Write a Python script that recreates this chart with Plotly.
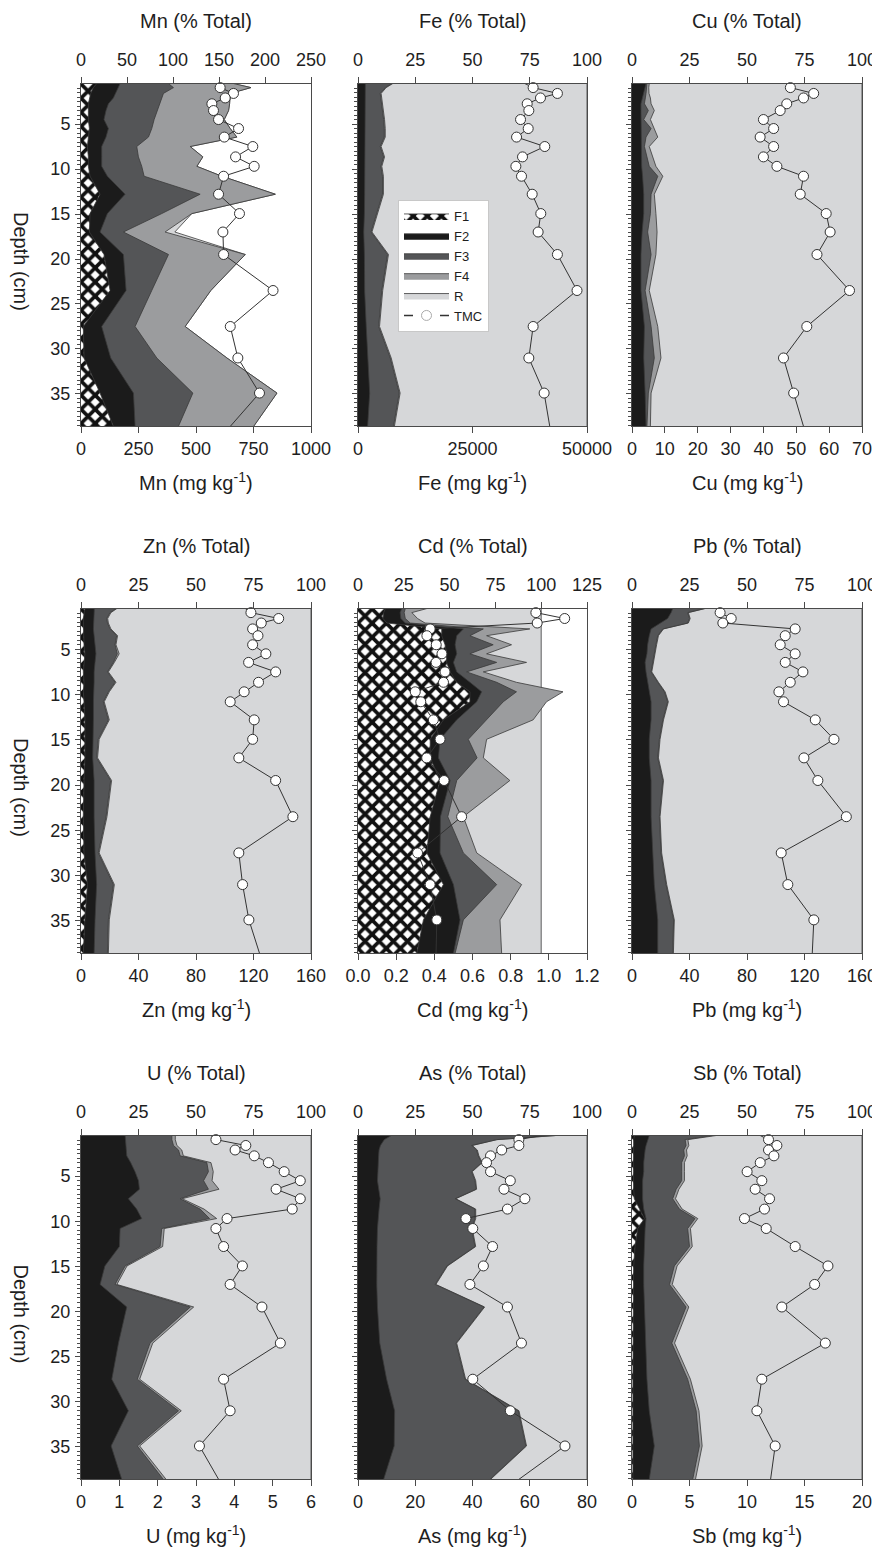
import plotly.graph_objects as go

# page body has an 8px margin: the figure is placed at (8, 8)
OFF = 8
W, H = 880, 1548

# ---------------- data ----------------
depth = [0.5, 0.95, 1.6, 2.1, 2.75, 3.5, 4.5, 5.5, 6.45, 7.5, 8.65, 9.7, 10.8,
         12.8, 14.95, 17.0, 19.5, 23.5, 27.5, 31.0, 34.9, 38.6]

# cumulative upper edge of each fraction (% of total), and TMC (mg/kg)
mn_F1 = [17.1, 13.4, 10.5, 9.1, 8.0, 8.0, 8.0, 9.1, 8.0, 6.9, 8.0, 8.0, 9.8, 20.7, 9.8, 9.1, 25.0, 31.6, 2.5, 3.3, 20.7, 35.2]
mn_F2 = [42.5, 40.6, 37.7, 35.2, 29.8, 27.2, 25.0, 29.8, 27.2, 22.5, 22.5, 22.5, 28.7, 47.9, 28.7, 20.7, 46.1, 49.0, 22.5, 32.3, 57.0, 58.8]
mn_F3 = [95.1, 100.5, 89.6, 87.8, 86.0, 83.1, 79.5, 76.9, 73.3, 60.6, 62.4, 66.0, 68.6, 129.5, 87.8, 46.1, 95.1, 76.9, 58.8, 82.4, 121.6, 105.9]
mn_F4 = [165.8, 184.7, 162.2, 162.2, 161.5, 160.4, 155.7, 162.2, 169.4, 118.6, 132.4, 125.9, 153.1, 211.2, 120.5, 91.4, 178.5, 141.1, 113.2, 158.6, 213.0, 187.6]
mn_R = [165.8, 184.7, 162.2, 162.2, 161.5, 160.4, 155.7, 162.2, 169.4, 118.6, 132.4, 125.9, 153.1, 211.2, 120.5, 102.0, 178.5, 141.1, 113.2, 158.6, 213.0, 187.6]
mn_tmc = [612, 605, 663, 627, 569, 576, 598, 685, 623, 747, 672, 753, 620, 598, 689, 617, 620, 835, 649, 682, 776, 649]

fe_F2 = [3.2, 3.2, 3.2, 3.0, 3.0, 3.0, 3.0, 3.0, 3.0, 3.0, 3.0, 3.0, 3.0, 2.9, 2.8, 2.5, 2.8, 2.9, 3.6, 4.2, 5.1, 4.2]
fe_F3 = [14.8, 11.9, 9.7, 10.0, 10.2, 10.7, 11.2, 11.5, 11.5, 9.7, 11.2, 10.0, 10.7, 10.7, 8.3, 5.7, 12.9, 10.4, 9.0, 14.1, 18.0, 15.5]
fe_F4 = [15.2, 12.3, 10.1, 10.4, 10.6, 11.1, 11.6, 11.9, 11.9, 10.1, 11.6, 10.4, 11.1, 11.1, 8.7, 6.1, 13.3, 10.8, 9.4, 14.5, 18.4, 15.9]
fe_R = [100] * 22
fe_tmc = [36430, 38240, 43540, 39840, 36940, 37300, 35490, 37160, 34620, 40780, 35920, 34470, 35700, 38030, 39910, 39330, 43540, 47820, 38240, 37300, 40640, 41870]

cu_F2 = [6.1, 5.7, 5.1, 4.6, 3.9, 3.9, 3.9, 3.9, 3.9, 4.2, 3.9, 4.2, 4.6, 5.1, 5.1, 4.4, 3.9, 3.9, 5.4, 5.1, 5.7, 6.1]
cu_F3 = [6.5, 6.4, 6.1, 5.8, 5.4, 7.1, 5.1, 8.3, 6.1, 5.4, 6.5, 7.5, 11.2, 8.3, 8.0, 6.8, 8.3, 5.7, 8.3, 9.7, 7.1, 6.5]
cu_F4 = [7.5, 7.3, 7.4, 8.0, 8.3, 9.7, 8.0, 9.7, 11.2, 7.5, 9.0, 10.4, 13.4, 9.7, 10.4, 10.9, 10.4, 7.5, 11.2, 12.6, 8.3, 8.0]
cu_R = [100] * 22
cu_tmc = [48.2, 48.2, 55.3, 52.2, 47.1, 45.1, 40.0, 43.1, 39.0, 43.1, 40.0, 44.1, 52.2, 51.2, 59.1, 60.3, 56.3, 66.2, 53.2, 46.1, 49.2, 52.2]

zn_F1 = [1.7, 1.3, 1.0, 1.0, 1.0, 1.0, 1.3, 1.7, 1.3, 1.0, 1.3, 1.0, 1.3, 1.7, 1.7, 1.7, 1.3, 1.0, 1.3, 2.8, 1.7, 1.0]
zn_F2 = [5.8, 5.7, 5.4, 5.4, 5.4, 5.7, 6.1, 6.5, 6.1, 5.7, 5.7, 5.4, 5.4, 5.4, 5.1, 5.1, 5.7, 5.7, 6.1, 6.8, 6.1, 5.7]
zn_F3 = [15.2, 12.6, 11.2, 11.5, 12.6, 15.5, 14.8, 15.8, 14.1, 11.5, 14.8, 11.9, 9.7, 11.9, 7.5, 6.8, 12.9, 10.9, 7.5, 14.1, 11.9, 11.5]
zn_F4 = [15.6, 13.0, 11.6, 11.9, 13.0, 15.9, 15.2, 16.6, 14.5, 11.9, 15.2, 12.3, 10.1, 12.3, 7.9, 7.2, 13.3, 11.3, 7.9, 14.5, 12.3, 11.9]
zn_R = [100] * 22
zn_tmc = [114.3, 118.2, 137.5, 125.4, 119.4, 123.1, 119.4, 128.6, 116.6, 135.4, 123.5, 113.5, 103.8, 120.5, 119.4, 109.8, 135.4, 147.4, 109.8, 112.4, 116.8, 124.2]

cd_F1 = [14.9, 14.0, 13.6, 15.8, 45.7, 45.7, 47.5, 48.4, 48.4, 50.3, 53.9, 61.1, 61.1, 46.6, 39.4, 39.4, 44.8, 39.4, 37.6, 46.6, 35.7, 32.1]
cd_F2 = [23.9, 23.0, 23.4, 25.8, 57.5, 53.9, 53.0, 53.9, 52.1, 53.9, 61.1, 67.5, 64.8, 53.9, 44.8, 43.9, 50.3, 45.0, 44.8, 52.1, 55.7, 52.1]
cd_F3 = [25.8, 25.2, 25.8, 28.5, 68.4, 61.1, 73.8, 61.1, 75.7, 59.3, 75.7, 86.5, 79.3, 70.2, 60.2, 65.0, 53.9, 49.0, 57.5, 75.7, 57.5, 53.0]
cd_F4 = [37.6, 29.4, 32.5, 36.6, 93.8, 70.2, 83.8, 70.2, 92.0, 68.4, 86.5, 111.9, 102.9, 95.6, 70.2, 68.4, 82.9, 57.5, 64.8, 89.3, 77.5, 78.4]
cd_R = [100] * 22
cd_tmc = [0.935, 0.932, 1.083, 0.939, 0.378, 0.361, 0.41, 0.44, 0.409, 0.456, 0.448, 0.30, 0.329, 0.395, 0.43, 0.36, 0.451, 0.543, 0.312, 0.378, 0.413, 0.409]

pb_F2 = [17.7, 17.0, 15.5, 12.6, 8.3, 7.5, 6.8, 6.5, 5.7, 6.1, 6.8, 7.5, 8.3, 8.3, 7.5, 7.5, 8.3, 8.3, 9.0, 9.7, 11.2, 11.2]
pb_F3 = [31.5, 24.2, 25.0, 24.2, 13.4, 11.2, 10.4, 9.7, 9.0, 8.3, 11.2, 14.1, 15.5, 13.4, 11.9, 11.2, 13.4, 11.9, 12.6, 14.8, 18.1, 17.7]
pb_F4 = [31.8, 24.5, 25.3, 24.5, 13.7, 11.5, 10.7, 10.0, 9.3, 8.6, 11.5, 14.4, 15.8, 13.7, 12.2, 11.5, 13.7, 12.2, 12.9, 15.1, 18.4, 18.0]
pb_R = [100] * 22
pb_tmc = [62.5, 61.3, 69.0, 63.2, 113.5, 106.6, 103.1, 113.5, 106.6, 118.9, 110.1, 102.2, 105.4, 127.5, 140.5, 119.6, 129.3, 149.1, 103.8, 108.4, 126.5, 125.4]

u_F2 = [19.2, 19.3, 19.6, 19.6, 19.9, 21.6, 23.5, 25.0, 25.4, 20.6, 24.2, 26.4, 17.0, 16.7, 10.4, 8.3, 19.9, 16.3, 13.4, 20.6, 13.1, 17.7]
u_F3 = [39.5, 39.5, 40.2, 42.4, 43.1, 54.7, 55.4, 53.3, 55.4, 43.1, 51.8, 55.9, 35.1, 34.4, 19.2, 14.8, 47.5, 30.0, 24.5, 42.4, 24.5, 35.8]
u_F4 = [41.0, 41.0, 41.7, 43.8, 44.5, 56.5, 57.5, 57.0, 60.0, 44.0, 53.5, 59.0, 36.2, 35.5, 20.0, 15.6, 49.0, 31.2, 25.5, 43.6, 25.5, 37.0]
u_R = [100] * 22
u_tmc = [3.39, 3.52, 4.30, 4.02, 4.52, 4.89, 5.30, 5.72, 5.09, 5.72, 5.51, 3.81, 3.52, 3.72, 4.21, 3.89, 4.72, 5.20, 3.72, 3.89, 3.09, 3.59]

as_F2 = [14.5, 11.5, 9.8, 9.2, 9.0, 9.0, 8.7, 8.5, 9.0, 9.7, 9.2, 8.7, 8.5, 8.3, 8.2, 8.2, 8.5, 9.5, 12.5, 16.0, 15.8, 11.2]
as_F3 = [86.0, 60.5, 49.6, 51.8, 52.5, 54.0, 49.6, 51.1, 51.5, 42.4, 51.1, 51.1, 49.6, 51.1, 38.8, 33.7, 55.0, 42.8, 46.7, 70.0, 73.3, 57.6]
as_F4 = [86.3, 60.8, 49.9, 52.1, 52.8, 54.3, 49.9, 51.4, 51.8, 42.7, 51.4, 51.4, 49.9, 51.4, 39.1, 34.0, 55.3, 43.1, 47.0, 70.3, 73.6, 57.9]
as_R = [100] * 22
as_tmc = [64.1, 56.2, 56.2, 50.2, 46.3, 44.9, 46.3, 53.2, 51.0, 58.3, 52.2, 37.7, 40.1, 47.0, 43.8, 39.1, 52.2, 57.1, 40.1, 53.2, 72.3, 56.2]

sb_F1 = [1.0, 0.7, 0.7, 0.6, 0.6, 0.6, 0.6, 0.6, 0.7, 1.0, 3.2, 5.4, 2.5, 1.3, 0.7, 0.6, 0.6, 0.4, 0.4, 0.4, 0.4, 0.4]
sb_F2 = [7.5, 6.8, 6.1, 5.7, 5.4, 5.1, 5.1, 4.6, 4.6, 4.6, 5.1, 6.1, 5.7, 5.4, 5.1, 5.1, 5.4, 5.7, 6.5, 7.5, 9.7, 7.5]
sb_F3 = [35.0, 23.1, 23.5, 22.5, 22.8, 21.6, 21.6, 21.6, 19.2, 17.7, 20.6, 27.4, 24.2, 25.0, 18.4, 16.3, 23.5, 17.3, 24.2, 27.9, 29.3, 26.4]
sb_F4 = [36.5, 24.3, 24.7, 23.7, 24.0, 22.8, 22.8, 22.8, 20.4, 18.9, 21.8, 28.6, 25.4, 26.2, 19.6, 17.5, 24.7, 18.5, 25.4, 29.1, 30.5, 27.6]
sb_R = [100] * 22
sb_tmc = [11.15, 11.87, 12.60, 11.87, 12.34, 11.15, 10.01, 11.29, 10.71, 11.96, 11.52, 9.78, 11.67, 14.19, 17.04, 15.88, 13.03, 16.81, 11.29, 10.86, 12.45, 12.05]

elements = ['Mn', 'Fe', 'Cu', 'Zn', 'Cd', 'Pb', 'U', 'As', 'Sb']
pct_max = [250, 100, 100, 100, 125, 100, 100, 100, 100]
pct_dtick = [50, 25, 25, 25, 25, 25, 25, 25, 25]
tmc_max = [1000, 50000, 70, 160, 1.2, 160, 6, 80, 20]
tmc_dtick = [250, 25000, 10, 40, 0.2, 40, 1, 20, 5]

fractions = {
    'Mn': [mn_F1, mn_F2, mn_F3, mn_F4, mn_R, mn_tmc],
    'Fe': [None, fe_F2, fe_F3, fe_F4, fe_R, fe_tmc],
    'Cu': [None, cu_F2, cu_F3, cu_F4, cu_R, cu_tmc],
    'Zn': [zn_F1, zn_F2, zn_F3, zn_F4, zn_R, zn_tmc],
    'Cd': [cd_F1, cd_F2, cd_F3, cd_F4, cd_R, cd_tmc],
    'Pb': [None, pb_F2, pb_F3, pb_F4, pb_R, pb_tmc],
    'U':  [None, u_F2, u_F3, u_F4, u_R, u_tmc],
    'As': [None, as_F2, as_F3, as_F4, as_R, as_tmc],
    'Sb': [sb_F1, sb_F2, sb_F3, sb_F4, sb_R, sb_tmc],
}

# ---------------- styling ----------------
FONT = "Liberation Sans, Arial, sans-serif"
TXT = '#1e1e1e'
AXC = '#4a4a4a'
EDGE = '#3a3a3a'
COLORS = {'F1': 'white', 'F2': '#1b1b1b', 'F3': '#545557', 'F4': '#9b9c9e', 'R': '#d6d7d9'}
RANK = {'F1': 1, 'F2': 2, 'F3': 3, 'F4': 4, 'R': 5}

# panel boxes in page pixels
cols_px = [(81, 311), (358, 587), (632, 862)]
rows_px = [(84, 426), (609, 953), (1136, 1479)]


def px_x(x):
    return (x - OFF) / W


def px_y(y):
    return 1 - (y - OFF) / H


fig = go.Figure()
layout = {}
annotations = []

for k, el in enumerate(elements):
    r, c = divmod(k, 3)
    xa, xb, ya = 2 * k + 1, 2 * k + 2, k + 1
    xt = 'x' if xa == 1 else f'x{xa}'
    xbt = f'x{xb}'
    yt = 'y' if ya == 1 else f'y{ya}'
    F1, F2, F3, F4, R, tmc = fractions[el]

    # painter order: largest cumulative first
    for name, vals in [('R', R), ('F4', F4), ('F3', F3), ('F2', F2), ('F1', F1)]:
        if vals is None:
            continue
        kw = {}
        if name == 'F1':
            kw['fillpattern'] = dict(shape='x', fgcolor='#111111', bgcolor='white',
                                     size=10, solidity=0.6, fillmode='replace')
        fig.add_trace(go.Scatter(
            x=vals, y=depth, xaxis=xt, yaxis=yt, mode='lines',
            line=dict(color=EDGE, width=0.8), fill='tozerox',
            fillcolor=COLORS[name], name=name, legendrank=RANK[name],
            showlegend=(k == 0), hoverinfo='skip', **kw))

    fig.add_trace(go.Scatter(
        x=tmc, y=depth, xaxis=xbt, yaxis=yt, mode='lines+markers',
        line=dict(color='#333333', width=1),
        marker=dict(symbol='circle', size=10, color='white',
                    line=dict(color='#333333', width=1)),
        showlegend=False, cliponaxis=False, name='TMC'))

    x0, x1 = cols_px[c]
    y0, y1 = rows_px[r]
    dom_x = [px_x(x0), px_x(x1)]
    dom_y = [px_y(y1), px_y(y0)]
    tickfont = dict(family=FONT, size=18, color=TXT)

    layout['xaxis' if xa == 1 else f'xaxis{xa}'] = dict(
        domain=dom_x, anchor=yt, side='top', range=[0, pct_max[k]],
        tick0=0, dtick=pct_dtick[k], ticks='outside', ticklen=6, tickwidth=1,
        tickcolor=AXC, showline=True, linecolor=AXC, linewidth=1,
        showgrid=False, zeroline=False, tickfont=tickfont,
        ticklabelstandoff=4, automargin=False)
    layout[f'xaxis{xb}'] = dict(
        overlaying=xt, anchor=yt, side='bottom', range=[0, tmc_max[k]],
        tick0=0, dtick=tmc_dtick[k], ticks='outside', ticklen=6, tickwidth=1,
        tickcolor=AXC, showline=True, linecolor=AXC, linewidth=1,
        showgrid=False, zeroline=False, tickfont=tickfont,
        tickformat='.1f' if el == 'Cd' else 'd', automargin=False)
    layout['yaxis' if ya == 1 else f'yaxis{ya}'] = dict(
        domain=dom_y, anchor=xt, range=[38.56, 0.55], tick0=0, dtick=5,
        ticks='outside', ticklen=5, tickwidth=1, tickcolor=AXC,
        showline=True, mirror=True, linecolor=AXC, linewidth=1,
        showgrid=False, zeroline=False, showticklabels=(c == 0),
        tickfont=tickfont, ticklabelstandoff=1, automargin=False,
        minor=dict(dtick=0.5, ticks='outside', ticklen=3, tickcolor=AXC, tickwidth=1))

    xc = px_x((x0 + x1) / 2)
    annotations.append(dict(text=f'{el} (% Total)', x=xc, y=px_y(y0 - 63),
                            xref='paper', yref='paper', showarrow=False,
                            xanchor='center', yanchor='middle',
                            font=dict(family=FONT, size=20, color=TXT)))
    annotations.append(dict(text=f'{el} (mg kg<sup>-1</sup>)', x=xc, y=px_y(y1 + 55),
                            xref='paper', yref='paper', showarrow=False,
                            xanchor='center', yanchor='middle',
                            font=dict(family=FONT, size=20, color=TXT)))
    if c == 0:
        annotations.append(dict(text='Depth (cm)', x=px_x(21), y=px_y((y0 + y1) / 2 + 6),
                                xref='paper', yref='paper', showarrow=False,
                                textangle=90, xanchor='center', yanchor='middle',
                                font=dict(family=FONT, size=20, color=TXT)))

# legend-only TMC entry
fig.add_trace(go.Scatter(
    x=[None], y=[None], xaxis='x2', yaxis='y', mode='lines+markers', name='TMC',
    line=dict(color='#333333', width=1.5, dash='dash'),
    marker=dict(symbol='circle', size=10, color='white', line=dict(color='#aaaaaa', width=1)),
    legendrank=6, showlegend=True))

fig.update_layout(
    width=W, height=H, margin=dict(l=0, r=0, t=0, b=0, autoexpand=False),
    paper_bgcolor='white', plot_bgcolor='white',
    font=dict(family=FONT, color=TXT),
    annotations=annotations,
    legend=dict(x=px_x(398), y=px_y(200), xanchor='left', yanchor='top',
                bgcolor='white', bordercolor='#c8c8c8', borderwidth=1,
                font=dict(family=FONT, size=13, color=TXT),
                tracegroupgap=0, itemwidth=45),
    **layout)

fig.write_html('out.html')
